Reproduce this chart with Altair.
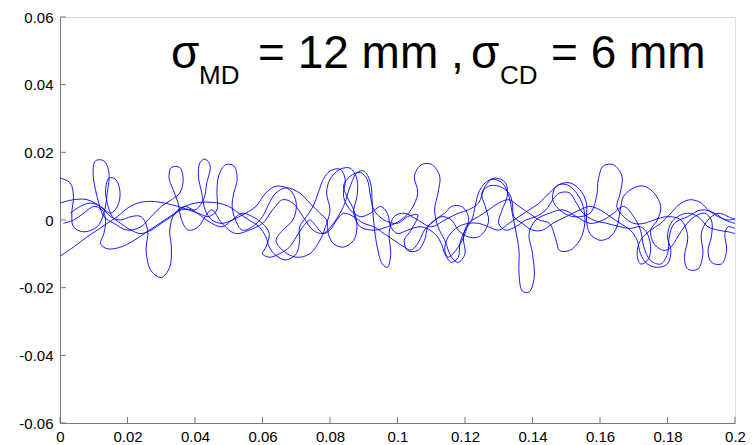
import altair as alt
import pandas as pd

# Fibre centre-line traces across the web (positions in mm, plotted in metres)
fibre_a_x = [0, 3, 4, 3.5, 4, 7, 11, 13, 14, 14.5, 13, 10.5, 9.8, 10.5, 11.5, 13, 16, 20, 24, 27, 30, 33,
             35.5, 36.5, 35.5, 33, 32.3, 33.5, 35, 36, 38, 41, 43, 45, 48, 52, 56, 60, 63, 66, 69, 72, 75,
             78, 81, 84, 86, 88, 90, 92, 92.5, 93, 94, 95.5, 97, 98, 97.5, 99, 102, 106, 110, 114, 118, 121,
             124, 126, 128, 131, 133, 134, 135, 136, 136, 137, 139, 140.5, 140, 139, 141, 145, 149, 153, 157,
             161, 164, 167, 170, 172, 173, 175, 178, 180, 180.5, 182, 186, 190, 194, 197, 200]
fibre_a_y = [12.4, 11, 7, 2, -2, -3.5, -2, 2, 8, 14, 17.5, 17.5, 14, 9, 5, 1, -1, -3, -2, 1, 4, 6,
             8, 12, 15.5, 15.5, 12.5, 9, 5, 0, -3, -2, 1, 3, -1, -4, -3, -1, 3, 6, 5, 1, -3,
             -4, -1, 4, 10, 14, 14.5, 11, 5, -1, -8, -13, -14, -10, -4, 1, 2, 0, -2, 0, 2, 3,
             5, 10, 12, 11, 7, 2, -3, -9, -16, -21, -21.3, -17, -10, -4, 0, 2, 3, 1, -1,
             0, 2, 4, 1, -3, -8, -12, -13, -10, -5, -1, 1, 3, 2, 0, -1]

fibre_b_x = [0, 4, 8, 12, 15, 18, 21, 24, 26, 25.5, 27, 30, 32.5, 33, 32.5, 34, 37, 40, 42.5, 43.5, 44.5,
             43, 41.5, 41, 42, 43, 45, 48, 51, 55, 58, 61, 64, 68, 70, 69, 66, 64, 66, 70, 74, 77, 79, 80,
             79, 80, 83, 86, 88, 88, 87, 89, 93, 97, 101, 104, 106, 105, 107, 110, 112.5, 112, 111, 112,
             114, 116, 118, 120, 119.5, 121, 124, 127, 130, 133, 136, 139, 142, 145, 147, 148, 151, 154,
             155.5, 155, 153, 150, 147, 146, 148, 152, 157, 159, 159.5, 161, 164, 166.5, 166, 165, 167,
             170, 173, 176, 180, 184, 186, 185, 186, 189, 190.5, 190, 192, 195, 198, 200]
fibre_b_y = [5, 6, 6, 4, 1, 0, 1, 1, -3, -9, -15, -17, -14, -8, -3, 2, 4, 3, 6, 11, 16,
             18, 17, 13, 8, 3, 0, -1, 0, 2, 4, 8, 10, 9, 5, 0, -3, -6, -9, -11, -10, -6, -1, 3,
             8, 12, 15, 15.3, 12, 7, 2, -2, -3, -2, 0, 3, 8, 13, 16.3, 16.5, 13, 8, 3, -2,
             -6, -11, -12.5, -10, -5, -1, 1, 3, 5, 6, 4, 2, 0, -1, -6, -9, -9, -6,
             -1, 4, 8, 10.5, 10, 6, 3, 1, 2, 7, 12, 16, 16.3, 13, 8, 4, 1,
             -1, -1, 0, 1, 0, -5, -11, -14.5, -14.5, -10, -4, 0, 2, 1, 0]

fibre_c_x = [0, 4, 8, 11, 14, 17, 20, 23, 27, 31, 35, 38, 41, 44, 46.5, 46.5, 47, 49, 51.5, 52.5, 51.5,
             51, 52, 54, 57, 60, 62, 64, 67, 71, 74, 77, 79, 79.5, 81, 84, 87, 88, 87, 85, 84, 86, 89,
             91, 92, 93, 96, 100, 103, 106, 104, 102, 103, 106, 108, 109, 111, 114, 116, 119, 121, 120,
             118, 115, 114, 115, 118, 121, 124, 127, 130, 133, 136, 139, 142, 145, 148, 151, 154, 156,
             156, 157, 160, 163, 165, 166, 167, 170, 173, 176, 178, 177, 175, 176, 179, 181, 183, 185,
             188, 191, 193, 193, 192, 193, 196, 197.5, 197, 198, 200]
fibre_c_y = [-10.7, -8, -5, -3, -1, 1, 3.5, 5, 5.5, 5, 4, 3, 2, 1, 3, 8, 13, 16.3, 16, 12, 8,
             4, 0, -3, -2, 1, 5, 8, 9.5, 8, 5, 2, 0, -4, -7, -8, -6, -2, 3, 7, 10, 13, 14,
             12, 7, 3, 0, -1, 1, 1.5, -3, -6, -9, -9, -6, -2, 0, 2, 4, 4, 1, -4,
             -8, -11, -9, -5, -2, -1, -1, -2, -3, -1, 1, 3, 5, 8, 10.5, 11, 9, 5,
             0, -4, -6, -5, -2, 3, 7, 9.5, 10, 8, 4, 0, -3, -7, -9, -8, -5, -2,
             1, 2, 0, -5, -9, -12.5, -13, -9, -4, -2, -2.5]

fibre_d_x = [1, 4, 7, 10, 12.5, 13.5, 13, 12, 14, 18, 22, 25, 28, 31, 34, 37, 40, 43, 47, 50, 53, 56,
             59, 61, 62, 64, 67, 70, 71, 71, 73, 75, 76.5, 78, 80, 83, 84.5, 84, 86, 89, 92, 95, 97, 98,
             100, 103, 107, 111, 113, 114, 116, 118, 118.5, 120, 122, 123, 124, 126, 129, 132, 132.5,
             131, 130, 132, 135, 138, 141, 144, 146, 148, 151, 153, 155, 158, 162, 166, 169, 172, 174,
             175, 174, 172, 171, 172, 175, 178, 181, 184, 187, 190, 192, 195, 198, 200]
fibre_d_y = [-1, 0, 2, 4, 3, 0, -4, -7, -8.5, -8, -6, -4, -2, 0, 2, 4, 5, 5.3, 5, 4, 2, 0,
             -2, -5, -8, -10.5, -11.8, -10, -6, -2, 1, 4, 8, 12, 14.5, 15, 12, 7, 3, 1, 2, 4, 2, -2,
             -4, -3, -2, -4, -7, -10, -12.5, -11, -7, -3, 0, 4, 8, 11, 12.4, 11, 7,
             3, -1, -3, -2, 0, 1, 3, 6, 8, 8, 5, 2, 0, -1, -2, -2.5, -2, -4,
             -9, -12, -13, -10, -6, -3, -1, 2, 5, 6, 5, 3, 1, 0, 0.5]

fibre_e_x = [3, 6, 9, 12, 15, 17, 17.8, 16.5, 14.5, 13.5, 14, 15.5, 18, 21, 24, 27, 30, 33, 36, 39, 42,
             45, 48, 51, 54, 57, 60, 62, 61, 60, 62, 65, 68, 70, 72, 74, 76, 78, 80, 82, 84, 87, 90, 93,
             96, 99, 102, 104, 106, 108, 110, 113, 116, 118, 121, 124, 126, 127, 126, 125, 127, 130, 133,
             134, 134.5, 137, 140, 143, 146, 150, 154, 157, 160, 163, 166, 169, 171, 172, 174, 177, 180,
             181, 180, 181, 183, 186, 189, 192, 195, 198, 200]
fibre_e_y = [2, 4, 5, 4, 2, 4, 8, 12, 12.4, 9, 5, 1, -1, -3, -4, -3, -1, 1, 3, 3, 1,
             -1, -2, 0, 2, 1, -1, -4, -8, -10, -11, -10, -8, -5, -2, 0, -2, -4, -3, 0, 2, 1, -1, -2,
             -4, -6, -8, -8.9, -7, -3, -1, 1, 0, -3, -5, -5, -3, 0, 4, 8, 10, 10, 8,
             5, 1, -1, -3, -3, -1, 1, 3, 4, 3, 1, -1, -3, -6, -10, -13, -14, -13,
             -9, -5, -1, 1, 2, 1, -2, -3, -3.5, -4]

x_ticks = [0, 0.02, 0.04, 0.06, 0.08, 0.1, 0.12, 0.14, 0.16, 0.18, 0.2]
y_ticks = [-0.06, -0.04, -0.02, 0, 0.02, 0.04, 0.06]

fibres = {
    "a": (fibre_a_x, fibre_a_y),
    "b": (fibre_b_x, fibre_b_y),
    "c": (fibre_c_x, fibre_c_y),
    "d": (fibre_d_x, fibre_d_y),
    "e": (fibre_e_x, fibre_e_y),
}

rows = []
for name, (xs, ys) in fibres.items():
    for i, (xv, yv) in enumerate(zip(xs, ys)):
        rows.append({"fibre": name, "step": i, "x": xv / 1000.0, "y": yv / 1000.0})
traces = pd.DataFrame(rows)

W, H = 675, 406
FONT = "Liberation Sans"
AXIS_GREY = "#777777"

x_scale = alt.Scale(domain=[0, 0.2], nice=False, zero=False)
y_scale = alt.Scale(domain=[-0.06, 0.06], nice=False, zero=False)

x_axis = alt.Axis(values=x_ticks, labelExpr="'' + datum.value", ticks=False, grid=False,
                  domainColor=AXIS_GREY, labelFont=FONT, labelFontSize=15, labelColor="black",
                  labelPadding=6, title=None, labelFlush=False)
y_axis = alt.Axis(values=y_ticks, labelExpr="'' + datum.value", ticks=False, grid=False,
                  domainColor=AXIS_GREY, labelFont=FONT, labelFontSize=15, labelColor="black",
                  labelPadding=7, title=None)

lines = alt.Chart(traces).mark_line(
    color="#0000ff", strokeWidth=0.9, interpolate="catmull-rom", clip=True
).encode(
    x=alt.X("x:Q", scale=x_scale, axis=x_axis),
    y=alt.Y("y:Q", scale=y_scale, axis=y_axis),
    detail="fibre:N",
    order="step:Q",
)

# inward-pointing tick marks
x_tick_rules = alt.Chart(pd.DataFrame({"t": x_ticks})).mark_rule(
    color=AXIS_GREY, strokeWidth=1
).encode(x=alt.X("t:Q", scale=x_scale), y=alt.value(H), y2=alt.value(H - 6))

y_tick_rules = alt.Chart(pd.DataFrame({"t": y_ticks})).mark_rule(
    color=AXIS_GREY, strokeWidth=1
).encode(y=alt.Y("t:Q", scale=y_scale), x=alt.value(0), x2=alt.value(6))

# annotation: sigma_MD = 12 mm , sigma_CD = 6 mm
label_parts = [
    ("σ", 111, 51, 46),
    ("MD", 139, 67, 26),
    ("= 12 mm ,", 198, 51, 46),
    ("σ", 411, 51, 46),
    ("CD", 440, 67, 26),
    ("= 6 mm", 491, 51, 46),
]
texts = []
for txt, px, py, fs in label_parts:
    texts.append(
        alt.Chart(pd.DataFrame({"t": [txt]})).mark_text(
            font=FONT, fontSize=fs, color="black", align="left", baseline="alphabetic"
        ).encode(text="t:N", x=alt.value(px), y=alt.value(py))
    )

chart = alt.layer(lines, x_tick_rules, y_tick_rules, *texts).properties(
    width=W, height=H,
    autosize=alt.AutoSizeParams(type="none"),
    padding={"left": 60, "top": 17, "right": 18, "bottom": 22},
).configure_view(stroke=None).configure(background="white")

chart.save("out.html", embed_options={"renderer": "svg", "actions": False})
